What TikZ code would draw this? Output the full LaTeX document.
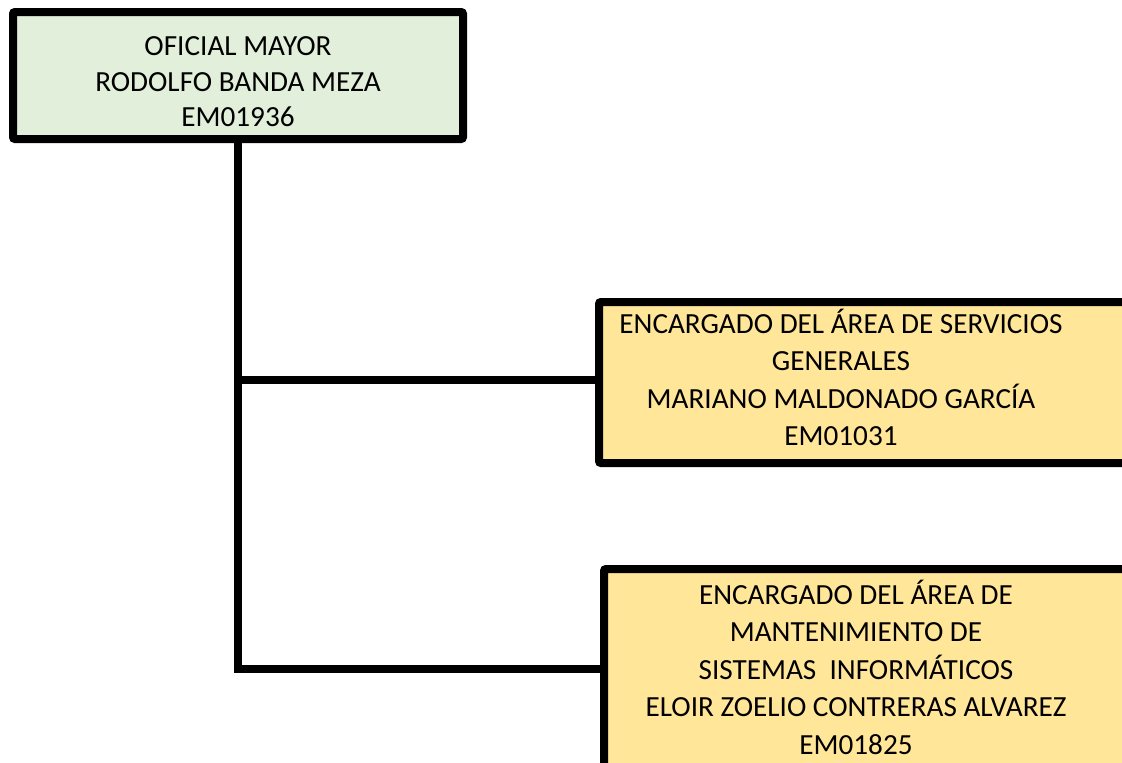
\documentclass[tikz,border=0pt]{standalone}
\usepackage{fontspec}
\setmainfont{Carlito}
\usepackage{tikz}
\usetikzlibrary{calc}

\definecolor{verdeclaro}{HTML}{E2EFDA}
\definecolor{amarillo}{HTML}{FFE699}

\tikzset{
	caja/.style={draw=black, line width=8pt, rectangle, inner sep=0pt, rounded corners=2pt},
	rotulo/.style={align=center, inner sep=0pt, text=black, font=\fontsize{29.2pt}{35.5pt}\selectfont},
	rotuloarea/.style={rotulo, font=\fontsize{29.2pt}{37.5pt}\selectfont},
	linea/.style={draw=black, line width=8pt}
}

\begin{document}
\begin{tikzpicture}[x=1pt, y=-1pt]
	\useasboundingbox (0,0) rectangle (1122,763);
	\clip (0,0) rectangle (1122,763);

	\coordinate (pie) at (0,669);

	\node[caja, fill=verdeclaro, minimum width=450pt, minimum height=127pt,
		label={[rotulo, yshift=-6.3pt]center:{OFICIAL MAYOR\\RODOLFO BANDA MEZA\\EM01936}}]
		(om) at (238,75.5) {};

	\node[caja, fill=amarillo, minimum width=531pt, minimum height=161pt,
		label={[rotuloarea, xshift=-23.5pt, yshift=5pt]center:{ENCARGADO DEL ÁREA DE SERVICIOS\\GENERALES\\MARIANO MALDONADO GARCÍA\\EM01031}}]
		(sg) at (864.5,382.5) {};

	\node[caja, fill=amarillo, minimum width=526pt, minimum height=231pt,
		label={[rotuloarea, xshift=-11pt, yshift=17.5pt]center:{ENCARGADO DEL ÁREA DE\\MANTENIMIENTO DE\\SISTEMAS\ \ INFORMÁTICOS\\ELOIR ZOELIO CONTRERAS ALVAREZ\\EM01825}}]
		(mt) at (867,684.5) {};

	\draw[linea]	(om.south) |- ([yshift=3pt]sg.west);
	\draw[linea]	(om.south) |- (mt.west |- pie);
\end{tikzpicture}
\end{document}
